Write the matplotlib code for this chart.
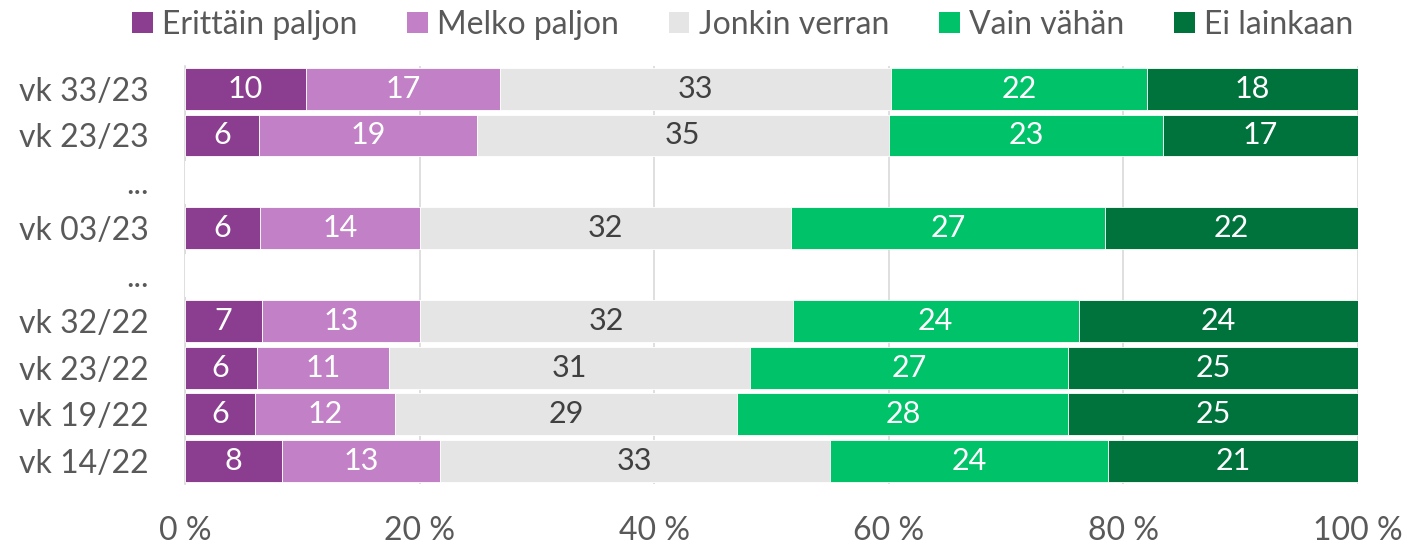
import matplotlib
matplotlib.use("Agg")
import matplotlib.pyplot as plt
import numpy as np
from matplotlib.patches import Patch

plt.rcParams['font.family'] = ['Lato', 'DejaVu Sans']

categories = ["vk 33/23", "vk 23/23", "...", "vk 03/23", "...", "vk 32/22", "vk 23/22", "vk 19/22", "vk 14/22"]
series_names = ["Erittäin paljon", "Melko paljon", "Jonkin verran", "Vain vähän", "Ei lainkaan"]
erittain = [10.3, 6.3, None, 6.4, None, 6.6, 6.1, 6.0, 8.3]
melko = [16.6, 18.6, None, 13.6, None, 13.4, 11.3, 11.9, 13.4]
jonkin = [33.3, 35.1, None, 31.7, None, 31.8, 30.8, 29.2, 33.3]
vain = [21.8, 23.4, None, 26.7, None, 24.4, 27.1, 28.2, 23.7]
ei = [18.0, 16.6, None, 21.6, None, 23.8, 24.7, 24.7, 21.3]
xticks = [0, 20, 40, 60, 80, 100]
xticklabels = ["0 %", "20 %", "40 %", "60 %", "80 %", "100 %"]

colors = ["#8B3E8F", "#C280C6", "#E5E5E5", "#00C268", "#00733C"]
textcolors = ["white", "white", "#404040", "white", "white"]

series = [erittain, melko, jonkin, vain, ei]

fig = plt.figure(figsize=(14.12, 5.48), dpi=100)
ax = fig.add_axes([0.131, 0.117, 0.8307, 0.763])

n = len(categories)
ypos = np.arange(n)
left = np.zeros(n)
totals = np.array([sum(x[i] for x in series) if series[0][i] is not None else 1 for i in range(n)], dtype=float)
for si, (s, col, tc) in enumerate(zip(series, colors, textcolors)):
    vals = np.array([v if v is not None else 0 for v in s], dtype=float)
    widths = vals / totals * 100
    ax.barh(ypos, widths, left=left, height=0.9, color=col, edgecolor='white', linewidth=0.6, zorder=3)
    for i in range(n):
        if s[i] is not None:
            ax.text(left[i] + widths[i] / 2, ypos[i], f"{s[i]:.0f}", ha='center', va='center',
                    color=tc, fontsize=22, zorder=4)
    left = left + widths

ax.set_ylim(n - 0.5, -0.5)
ax.set_xlim(0, 100)
ax.set_yticks(ypos)
ax.set_yticklabels(categories, fontsize=23, color='#595959')
ax.set_xticks(xticks)
ax.set_xticklabels(xticklabels, fontsize=23, color='#595959')
ax.tick_params(axis='both', length=0)
ax.tick_params(axis='x', pad=23)
ax.tick_params(axis='y', pad=26)
ax.grid(axis='x', color='#D9D9D9', linewidth=1.2, zorder=0)
for sp in ['top', 'right', 'bottom']:
    ax.spines[sp].set_visible(False)
ax.spines['left'].set_color('#D9D9D9')
ax.spines['left'].set_linewidth(1.2)

handles = [Patch(facecolor=c, edgecolor='none') for c in colors]
fig.legend(handles, series_names, loc='upper center', bbox_to_anchor=(0.526, 1.035), ncol=5,
           frameon=False, fontsize=23, handlelength=0.65, handleheight=0.65, handletextpad=0.3,
           columnspacing=1.55, labelcolor='#595959')

fig.savefig("out.png", dpi=100)
